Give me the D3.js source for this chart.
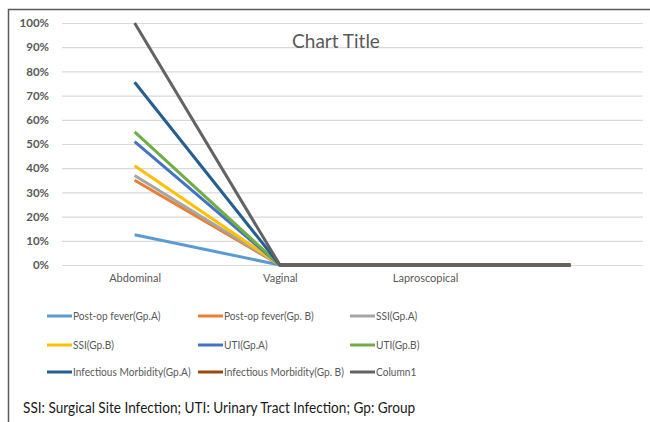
<!DOCTYPE html>
<html>
<head>
<meta charset="utf-8">
<script src="https://cdn.jsdelivr.net/npm/d3@7"></script>
<style>
  body { margin: 0; background: #fff; }
  text { font-family: Lato, "Liberation Sans", sans-serif; }
</style>
</head>
<body>
<svg></svg>
<script>
// Data
const categories = ["Abdominal", "Vaginal", "Laproscopical", ""];
const seriesNames = [
  "Post-op fever(Gp.A)", "Post-op fever(Gp. B)", "SSI(Gp.A)",
  "SSI(Gp.B)", "UTI(Gp.A)", "UTI(Gp.B)",
  "Infectious Morbidity(Gp.A)", "Infectious Morbidity(Gp. B)", "Column1"
];
const seriesValues = [
  [12.5, 0, 0, 0],
  [35, 0, 0, 0],
  [37, 0, 0, 0],
  [41, 0, 0, 0],
  [51, 0, 0, 0],
  [55, 0, 0, 0],
  [75.5, 0, 0, 0],
  [null, 0, 0, 0],
  [100, 0, 0, 0]
];
const colors = ["#5B9BD5", "#ED7D31", "#A5A5A5", "#FFC000", "#4472C4", "#70AD47", "#255E91", "#9E480E", "#636363"];
const yTicks = [0, 10, 20, 30, 40, 50, 60, 70, 80, 90, 100];

const width = 650;
const height = 422;
const margin = { top: 23, right: 7, bottom: 157, left: 62 };

const svg = d3.select("svg")
  .attr("width", width)
  .attr("height", height);

// squeeze text horizontally a bit (the original uses a narrow Calibri-like face)
function condense(sel, k) {
  sel.each(function() {
    const w = this.getComputedTextLength();
    d3.select(this).attr("textLength", w * k).attr("lengthAdjust", "spacingAndGlyphs");
  });
}

// frame
svg.append("path")
  .attr("d", `M8.5,${height} V9.5 H${width}`)
  .attr("fill", "none")
  .attr("stroke", "#5a5a5a")
  .attr("stroke-width", 1.5);

const chartWidth = width - margin.left - margin.right;
const chartHeight = height - margin.top - margin.bottom;

const chart = svg.append("g")
  .attr("transform", `translate(${margin.left}, ${margin.top})`);

// Scales
const x = d3.scalePoint()
  .domain(categories)
  .range([0, chartWidth])
  .padding(0.5);

const y = d3.scaleLinear()
  .domain([0, 100])
  .range([chartHeight, 0]);

// Gridlines
chart.append("g")
  .call(d3.axisLeft(y).tickValues(yTicks).tickSize(-chartWidth).tickFormat(""))
  .call(g => g.select(".domain").remove())
  .call(g => g.selectAll("line").attr("stroke", "#d9d9d9").attr("stroke-width", 1.2));

// Y axis labels
chart.append("g")
  .call(d3.axisLeft(y).tickValues(yTicks).tickSize(0).tickPadding(13).tickFormat(d => d + "%"))
  .call(g => g.select(".domain").remove())
  .call(g => g.selectAll("text")
    .attr("fill", "#595959")
    .attr("font-size", 11.5)
    .attr("font-weight", 700));

// X axis labels
chart.append("g")
  .attr("transform", `translate(0, ${chartHeight})`)
  .call(d3.axisBottom(x).tickSize(0).tickPadding(9))
  .call(g => g.select(".domain").remove())
  .call(g => g.selectAll("text")
    .attr("fill", "#595959")
    .attr("font-size", 11));

// Lines
const line = d3.line()
  .defined(d => d != null)
  .x((d, i) => x(categories[i]))
  .y(d => y(d));

chart.selectAll(".series")
  .data(seriesValues)
  .enter()
  .append("path")
  .attr("class", "series")
  .attr("d", line)
  .attr("fill", "none")
  .attr("stroke", (d, i) => colors[i])
  .attr("stroke-width", 3)
  .attr("stroke-linejoin", "round");

// Title
svg.append("text")
  .attr("x", 336)
  .attr("y", 48)
  .attr("text-anchor", "middle")
  .attr("font-size", 19)
  .attr("fill", "#595959")
  .text("Chart Title");

// Legend
const legend = svg.append("g");
const legendX = [47, 198, 350];
const legendY = [316, 345, 372];

const item = legend.selectAll(".item")
  .data(seriesNames)
  .enter()
  .append("g")
  .attr("class", "item")
  .attr("transform", (d, i) => `translate(${legendX[i % 3]}, ${legendY[Math.floor(i / 3)]})`);

item.append("line")
  .attr("x1", 0)
  .attr("x2", 25)
  .attr("stroke", (d, i) => colors[i])
  .attr("stroke-width", 3);

item.append("text")
  .attr("x", 26)
  .attr("dy", "0.35em")
  .attr("font-size", 11.5)
  .attr("fill", "#595959")
  .text(d => d)
  .call(condense, 0.88);

// Footnote
svg.append("text")
  .attr("x", 23)
  .attr("y", 413)
  .attr("font-size", 16)
  .attr("fill", "#1a1a1a")
  .text("SSI: Surgical Site Infection; UTI: Urinary Tract Infection; Gp: Group")
  .call(condense, 0.85);
</script>
</body>
</html>
